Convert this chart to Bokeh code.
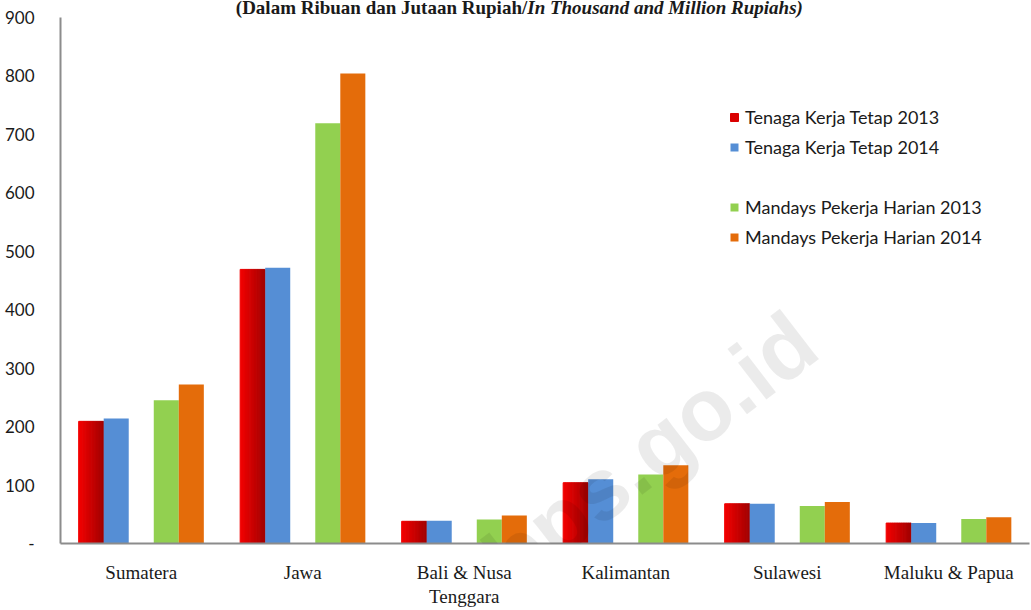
from bokeh.plotting import figure
from bokeh.models import (FactorRange, Range1d, Legend, LegendItem, Label,
                          FixedTicker, ColumnDataSource, CategoricalAxis,
                          CustomJSTickFormatter)
from bokeh.transform import dodge
from bokeh.embed import file_html
from bokeh.resources import INLINE

regions = ["Sumatera", "Jawa", "Bali & Nusa Tenggara", "Kalimantan", "Sulawesi", "Maluku & Papua"]
label_line1 = ["Sumatera", "Jawa", "Bali & Nusa", "Kalimantan", "Sulawesi", "Maluku & Papua"]
label_line2 = ["", "", "Tenggara", "", "", ""]
tk_2013 = [209, 469, 38, 104, 68, 35]
tk_2014 = [214, 472, 39, 110, 68, 35]
md_2013 = [245, 719, 41, 118, 64, 42]
md_2014 = [272, 804, 48, 134, 71, 45]
y_ticks = [0, 100, 200, 300, 400, 500, 600, 700, 800, 900]
series_names = ["Tenaga Kerja Tetap 2013", "Tenaga Kerja Tetap 2014",
                "Mandays Pekerja Harian 2013", "Mandays Pekerja Harian 2014"]
title_a = "(Dalam Ribuan dan Jutaan Rupiah/"
title_b = "In Thousand and Million  Rupiahs)"

src = ColumnDataSource(dict(x=regions, tk13=tk_2013, tk14=tk_2014, md13=md_2013, md14=md_2014))

# frame reaches the canvas top so the title (drawn inside the frame) is visible;
# the y axis line is bounded to 0..900
Y_MAX = 929.1
p = figure(width=1031, height=610, x_range=FactorRange(*regions), y_range=Range1d(0, Y_MAX),
           output_backend="svg", toolbar_location=None,
           min_border_left=60, min_border_right=2, min_border_top=0, min_border_bottom=67)
p.outline_line_color = None
p.xgrid.grid_line_color = None
p.ygrid.grid_line_color = None
p.background_fill_color = "white"
p.border_fill_color = "white"

W = 0.155
offs = [-0.31, -0.155, 0.155, 0.31]

# red bars with horizontal gradient (bright left -> dark right)
n = 14
red_rs = []
for k in range(n):
    t = k / (n - 1)
    r = int(242 - t * (242 - 165))
    col = "#%02x0000" % r
    red_rs.append(p.vbar(x=dodge("x", offs[0] - W / 2 + (k + 0.5) * W / n, range=p.x_range),
                         top="tk13", width=W / n, source=src, fill_color=col, line_color=col,
                         line_width=1))
r_blue = p.vbar(x=dodge("x", offs[1], range=p.x_range), top="tk14", width=W, source=src,
                fill_color="#558ed5", line_color=None)
r_green = p.vbar(x=dodge("x", offs[2], range=p.x_range), top="md13", width=W, source=src,
                 fill_color="#92d050", line_color=None)
r_orange = p.vbar(x=dodge("x", offs[3], range=p.x_range), top="md14", width=W, source=src,
                  fill_color="#e46c0a", line_color=None)

# axes
p.yaxis.bounds = (0, 900)
p.yaxis.ticker = FixedTicker(ticks=y_ticks)
p.yaxis.major_label_overrides = {0: "-"}
p.yaxis.major_tick_line_color = None
p.yaxis.minor_tick_line_color = None
p.yaxis.major_label_standoff = 20
p.yaxis.axis_line_color = "#8c8c8c"
p.yaxis.axis_line_width = 2
p.yaxis.major_label_text_font = "Lato"
p.yaxis.major_label_text_font_size = "17px"
p.yaxis.major_label_text_color = "#1a1a1a"

LABEL_JS = "const i = keys.indexOf(tick); return i < 0 ? tick : vals[i];"

xa = p.xaxis[0]
xa.formatter = CustomJSTickFormatter(args=dict(keys=regions, vals=label_line1), code=LABEL_JS)
xa.major_tick_line_color = None
xa.minor_tick_line_color = None
xa.major_tick_out = 0
xa.major_tick_in = 0
xa.major_label_standoff = 18
xa.axis_line_color = "#8c8c8c"
xa.axis_line_width = 2
xa.major_label_text_font = "Liberation Serif"
xa.major_label_text_font_size = "19px"
xa.major_label_text_color = "#1a1a1a"

# second line of the category labels
xa2 = CategoricalAxis(formatter=CustomJSTickFormatter(args=dict(keys=regions, vals=label_line2),
                                                      code=LABEL_JS),
                      axis_line_color=None, major_tick_line_color=None,
                      minor_tick_line_color=None, major_tick_out=0, major_tick_in=0,
                      major_label_standoff=0,
                      major_label_text_font="Liberation Serif",
                      major_label_text_font_size="19px",
                      major_label_text_color="#1a1a1a")
p.add_layout(xa2, "below")

# legends
def mk_legend(items, loc):
    return Legend(items=items, location=loc, orientation="vertical",
                  glyph_width=10, glyph_height=10, label_height=20, spacing=8,
                  padding=0, margin=0, label_standoff=6,
                  label_text_font="Lato", label_text_font_size="18px",
                  label_text_color="#1a1a1a",
                  border_line_color=None, background_fill_alpha=0)

leg1 = mk_legend([LegendItem(label=series_names[0], renderers=[red_rs[n // 3]]),
                  LegendItem(label=series_names[1], renderers=[r_blue])], (669, 385))
leg2 = mk_legend([LegendItem(label=series_names[2], renderers=[r_green]),
                  LegendItem(label=series_names[3], renderers=[r_orange])], (669, 295))
p.add_layout(leg1)
p.add_layout(leg2)

# title (partly bold, partly bold italic)
t1 = Label(x=2.89, y=899, text=title_a, text_align="right",
           text_baseline="bottom", text_font="Liberation Serif", text_font_style="bold",
           text_font_size="19px", text_color="#1a1a1a")
t2 = Label(x=2.89, y=899, text=title_b, text_align="left",
           text_baseline="bottom", text_font="Liberation Serif", text_font_style="bold italic",
           text_font_size="19px", text_color="#1a1a1a")
p.add_layout(t1)
p.add_layout(t2)

# watermark (kept fully inside the canvas)
wm = Label(x=3.65, y=159, text="bps.go.id", text_align="center", text_baseline="middle",
           angle=0.656, text_font="Liberation Sans", text_font_style="bold",
           text_font_size="88px", text_color="#000000", text_alpha=0.08)
p.add_layout(wm)

open("out.html", "w").write(file_html(p, INLINE))
